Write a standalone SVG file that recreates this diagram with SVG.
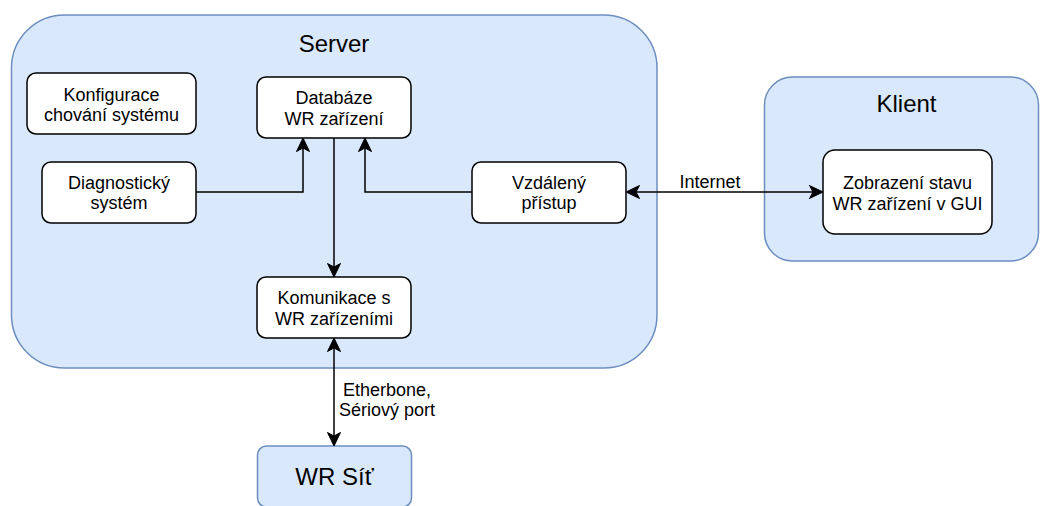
<svg xmlns="http://www.w3.org/2000/svg" width="1040" height="506" viewBox="0 0 1040 506">
  <style>
    .container { fill: #dae8fc; stroke: #6c8ebf; stroke-width: 1.5; }
    .box { fill: #ffffff; stroke: #000000; stroke-width: 1.5; }
    .title { font-family: "Liberation Sans", Arial, sans-serif; font-size: 24px; fill: #000000; text-anchor: middle; }
    .label { font-family: "Liberation Sans", Arial, sans-serif; font-size: 18px; fill: #000000; text-anchor: middle; }
    .edge { fill: none; stroke: #000000; stroke-width: 1.5; }
    .arrow { marker-end: url(#head); }
    .both { marker-start: url(#head); marker-end: url(#head); }
  </style>
  <defs>
    <marker id="head" viewBox="-15 -15 30 30" markerWidth="30" markerHeight="30" refX="0" refY="0" markerUnits="userSpaceOnUse" orient="auto-start-reverse">
      <path d="M-3.5,-6.5 L10,0 L-3.5,6.5 L0,0 Z" fill="#000000" stroke="#000000" stroke-width="1" stroke-linejoin="miter"/>
    </marker>
  </defs>

  <!-- containers -->
  <g id="server">
    <rect class="container" x="11.5" y="15" width="645.5" height="353" rx="53" ry="53"/>
    <text class="title" x="334" y="52">Server</text>
  </g>
  <g id="klient">
    <rect class="container" x="764.5" y="77" width="274" height="184" rx="28" ry="28"/>
    <text class="title" x="906.5" y="112">Klient</text>
  </g>
  <g id="wr-sit">
    <rect class="container" x="257.5" y="446" width="154" height="61" rx="9" ry="9"/>
    <text class="title" x="334.5" y="485">WR Síť</text>
  </g>

  <!-- server components -->
  <g id="konfigurace">
    <rect class="box" x="27" y="73" width="169" height="61" rx="9" ry="9"/>
    <text class="label" x="111.5" y="100.5">Konfigurace</text>
    <text class="label" x="111.5" y="121">chování systému</text>
  </g>
  <g id="databaze">
    <rect class="box" x="257" y="77" width="154" height="61" rx="9" ry="9"/>
    <text class="label" x="334" y="104">Databáze</text>
    <text class="label" x="334" y="125">WR zařízení</text>
  </g>
  <g id="diagnosticky">
    <rect class="box" x="42" y="162" width="154" height="61" rx="9" ry="9"/>
    <text class="label" x="119" y="188.5">Diagnostický</text>
    <text class="label" x="119" y="209">systém</text>
  </g>
  <g id="vzdaleny">
    <rect class="box" x="472" y="162" width="154" height="61" rx="9" ry="9"/>
    <text class="label" x="549" y="188.5">Vzdálený</text>
    <text class="label" x="549" y="209">přístup</text>
  </g>
  <g id="komunikace">
    <rect class="box" x="257" y="277" width="154" height="61" rx="9" ry="9"/>
    <text class="label" x="334" y="304">Komunikace s</text>
    <text class="label" x="334" y="324.5">WR zařízeními</text>
  </g>

  <!-- client component -->
  <g id="zobrazeni">
    <rect class="box" x="823" y="150" width="169" height="84" rx="12" ry="12"/>
    <text class="label" x="907.5" y="188.5">Zobrazení stavu</text>
    <text class="label" x="907.5" y="210">WR zařízení v GUI</text>
  </g>

  <!-- connectors -->
  <g id="connectors">
    <path class="edge arrow" d="M196,192 H303 V148"/>
    <path class="edge arrow" d="M472,192 H365 V148"/>
    <path class="edge arrow" d="M334,138 V267"/>
    <path class="edge both" d="M636,192 H813"/>
    <path class="edge both" d="M334,348 V436"/>
    <text class="label" x="710" y="188">Internet</text>
    <text class="label" x="387" y="396">Etherbone,</text>
    <text class="label" x="387" y="416">Sériový port</text>
  </g>
</svg>
